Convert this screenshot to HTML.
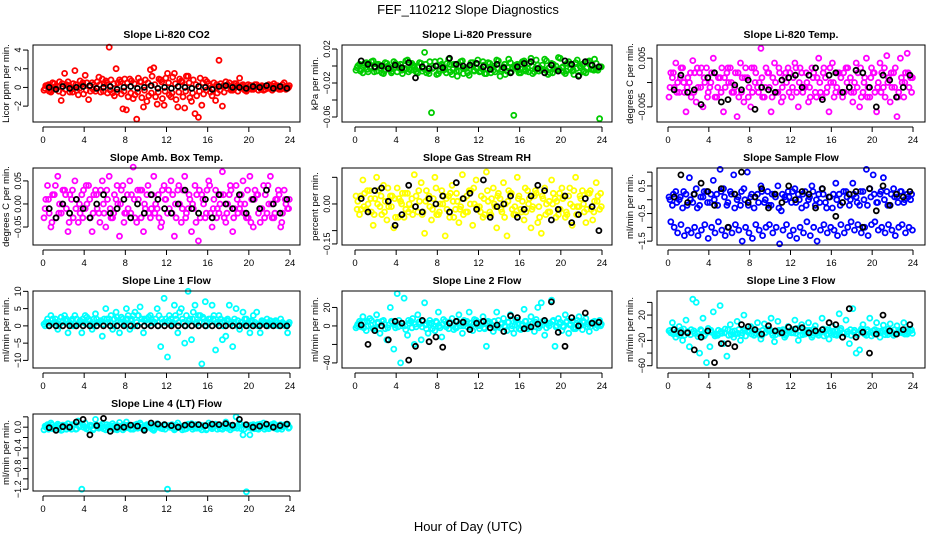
<!DOCTYPE html>
<html><head><meta charset="utf-8"><title>FEF_110212 Slope Diagnostics</title>
<style>html,body{margin:0;padding:0;background:#fff}svg{display:block;font-family:"Liberation Sans",sans-serif}</style>
</head><body>
<svg id="chart" width="936" height="540" viewBox="0 0 936 540" xmlns="http://www.w3.org/2000/svg">
<rect x="0" y="0" width="936" height="540" fill="#fff"/>
<text x="468" y="14" font-size="13" text-anchor="middle">FEF_110212  Slope Diagnostics</text>
<text x="468" y="531" font-size="13" text-anchor="middle">Hour of Day (UTC)</text>
</svg>
<script>
const xTicks=[0,4,8,12,16,20,24];
const co2C1=[-0.3,0.2,-0.5,0.4,0.1,-1.4,1.5,0.6,-0.2,1.8,-0.8,0.3,1.3,-1.3,0.5,-0.4,1.1,0.9,0.7,4.3,-0.6,2.0,0.8,-2.3,-2.4,0.9,-1.2,-3.4,0.6,-2.1,-1.5,1.9,2.1,-1.8,0.8,-1.9,1.5,-1.0,1.5,-2.1,0.7,-2.2,1.2,-1.5,-2.8,-3.2,-1.9,0.8,0.4,-0.9,-1.4,2.9,-2.0,0.6,0.5,-0.3,0.4,1.0,0.3,-0.4,0.2,-0.2,0.3,0.1,-0.3,0.2,-0.1,0.4,0.2,-0.2,0.5,-0.1];
const co2C2=[0.2,-0.4,0.5,-0.2,0.6,-0.6,0.3,-0.5,0.4,-0.3,0.7,-0.7,0.5,-0.4,0.3,0.6,-0.5,0.4,-0.6,0.8,-0.9,0.5,-0.7,0.9,-1.0,0.7,-0.8,1.0,-1.1,0.8,-0.9,1.2,-1.0,0.9,-1.2,1.0,-0.8,1.1,-1.3,0.9,-1.0,1.2,-1.1,0.8,-0.9,1.0,-0.7,0.6,-0.5,0.5,-0.6,0.4,-0.5,0.3,-0.3,0.4,-0.4,0.2,-0.3,0.3,-0.2,0.3,-0.3,0.2,-0.2,0.3,-0.3,0.2,-0.2,0.3,-0.2,0.2];
const co2C3=[-0.1,0.3,-0.3,0.1,-0.4,0.4,-0.2,0.2,-0.5,0.3,-0.1,0.5,-0.3,0.2,-0.2,-0.1,0.3,-0.4,0.5,-0.3,0.4,-0.5,0.6,-0.4,0.5,-0.6,0.4,-0.5,0.6,-0.3,0.5,-0.6,0.3,-0.5,0.6,-0.4,0.5,-0.6,0.4,-0.5,0.6,-0.4,0.5,-0.6,0.3,-0.4,0.5,-0.3,0.2,-0.2,0.3,-0.3,0.2,-0.1,0.1,-0.2,0.2,-0.1,0.1,-0.2,0.2,-0.1,0.1,-0.2,0.1,-0.1,0.2,-0.1,0.1,-0.1,0.1,0];
const co2Blk=[0,-0.2,0.1,-0.1,0,0.1,0.2,-0.1,0,0.1,-0.2,0,0.1,-0.1,0,0.2,-0.1,0,-0.1,0.1,0,-0.1,0.1,0,-0.2,0.1,0.2,0,0,-0.1,0.1,0,0.2,-0.1,0.1,-0.1];
const presC1=[-5,2,-8,4,-2,6,-6,1,-9,3,-4,5,-7,2,-3,7,-5,0,-8,3,16,-6,-55,5,-9,2,-4,8,-10,1,-6,6,-3,-11,4,-2,-7,5,-9,3,-5,7,-12,-1,-6,4,-58,2,-8,6,-3,9,-7,1,-5,8,-10,3,-4,10,-2,-9,5,-6,4,-11,2,-8,6,-4,3,-62];
const presC2=[0,-4,3,-7,5,-3,2,-8,4,-1,-6,3,-2,-9,6,-4,1,-7,4,-3,-8,5,-2,-10,6,-5,3,-7,2,-12,5,-3,-8,4,-6,7,-3,-9,4,-2,-7,6,-4,-10,8,-3,1,-8,5,-6,3,-9,7,-2,-4,6,-8,2,-5,9,-7,3,-3,-10,7,-2,-6,5,-4,8,-5,-1];
const presC3=[-2,-6,1,-4,-1,-7,2,-3,-6,0,-8,-2,1,-5,-3,-7,3,-4,-1,-6,2,-9,-3,0,-6,-1,-8,2,-4,-6,0,-9,-2,1,-5,-3,-6,1,-4,-8,0,-3,-6,2,-2,-7,-1,-5,2,-4,-7,0,-3,-6,1,-5,-2,-8,0,-4,-1,-6,2,-5,-3,0,-7,-2,1,-5,-3,-1];
const presBlk=[6,2,-1,0,-3,1,-2,4,-14,-1,-3,0,-2,9,2,0,1,3,-1,-4,2,-2,-8,-1,3,5,-3,-8,1,-6,6,2,-12,5,1,-1];
const tempC1=[-3,1,4,-2,3,-6,0,4.5,-4,2,-5,3,-1,5,-3,1,-6,2,3,-2,-7,4,-4,1,-5,3,-1,7,-3,2,-6,4,-2,-4,1,3,-3,4,-5,2,-1,-4,3,-2,5,-3,1,-6,4,-2,2,-3,3,-1,-4,4,-5,-2,5,-3,2,-6,4,-1,5.5,-4,2,-7,5,-3,6,1];
const tempC2=[2,-1,0,3,-2,1,-3,2,-1,3,0,-2,2,-3,1,3,-1,0,-2,2,-3,1,3,-1,-2,2,0,-3,3,-1,1,-2,2,-3,0,2,1,-2,3,-1,0,-3,2,1,-2,3,-1,0,-3,2,1,-2,3,-2,0,2,-3,1,-1,3,-2,0,2,-3,1,-1,3,-2,0,2,-1,1];
const tempC3=[-1,2,-2,1,0,-1,2,-2,3,-1,1,-3,0,2,-1,-2,1,3,0,-1,2,-2,1,-3,3,0,-2,1,-1,2,-3,0,3,-1,2,-2,-1,3,0,-2,2,-1,1,-3,0,2,-2,3,0,-1,-2,2,0,1,-2,-1,3,0,-3,1,2,-1,-2,3,0,2,-1,-3,1,0,2,-2];
const tempBlk=[-1.5,1.5,-2,-1.5,-4.5,1,2,-4,-3.5,-0.5,-1.5,0.5,-5.5,-1,-1.5,-2,0.5,1,1.5,-1,1.5,3,-3.5,1.5,2,-2,-1,2.5,2,-1,-5,1.5,0.5,-3,-1,1.5];
const ambC1=[-3,4,-5,2,6,-2,3,-6,1,5,-4,2,-1,4,-6,3,-2,5,-5,6,-3,1,-7,4,-2,5,8,-4,3,-6,2,-3,6,-1,-5,4,-2,5,-7,3,-4,6,-1,-6,4,-8,2,-3,5,-5,3,-2,7,-4,2,-6,4,-1,5,-3,6,-5,2,-4,4,-2,6,-3,1,-5,3,-1];
const ambC2=[1,-2,2,-3,0,3,-1,2,-3,1,-2,3,0,-3,2,-1,3,-2,1,-3,2,0,3,-2,-1,2,-3,1,3,-1,-2,2,0,-3,3,1,-1,2,-3,0,3,-2,1,-1,2,-3,0,3,-2,1,-1,2,-3,0,3,-1,-2,2,0,-3,1,3,-2,-1,2,0,-3,1,2,-2,0,1];
const ambC3=[-1,1,-4,4,-2,0,2,-4,3,-1,0,-3,4,1,-2,2,-4,0,3,-1,-2,4,0,-4,2,-2,1,3,-3,0,4,-1,-2,2,-4,1,3,-2,0,4,-1,-3,2,0,-4,3,1,-2,4,-1,-3,0,2,-2,4,-3,1,0,-2,3,-4,1,2,-1,-3,4,0,-2,3,-4,1,-1];
const ambBlk=[-1,-3,0,-2,1,-1,-3,0,2,-2,-1,1,-3,0,-2,2,1,-1,-2,0,3,-1,-2,1,-3,2,0,-1,2,-2,1,-1,3,0,-2,1];
const rhC1=[3,-4,9,-2,5,-8,10,-1,7,-6,3,-9,6,1,-5,4,-2,11,-3,8,-11,2,-6,10,-4,5,-12,3,7,-2,-7,11,-3,5,-8,9,-1,-5,12,-3,6,-9,2,8,-12,4,-4,10,-2,-6,5,-9,3,-7,-11,6,-3,9,2,-4,6,-5,3,-8,10,-1,5,-7,4,-6,8,-2];
const rhC2=[1,-2,4,0,-3,2,5,-4,1,-1,3,-5,2,4,-2,0,-4,3,1,-3,5,-1,2,-4,0,3,-2,4,-5,1,-1,2,-3,5,0,-2,3,-4,1,2,-1,4,-3,0,5,-2,-4,3,1,-3,2,-1,4,-5,2,0,-3,4,1,-2,3,-4,0,5,-1,2,-3,4,-2,1,3,-1];
const rhC3=[-2,3,-1,5,2,-4,0,3,-3,6,-1,2,-5,0,4,-3,2,-1,5,-4,1,3,-2,6,-3,0,2,-5,1,4,-2,-4,3,0,6,-1,-3,2,5,-4,0,3,-2,-5,1,4,-1,2,-3,6,0,-2,5,-1,3,-4,1,0,-5,4,2,-3,6,-1,-4,3,0,-2,5,-3,1,4];
const rhBlk=[2,-3,5,6,1,-8,-4,7,-1,-3,2,0,3,-3,8,2,4,-2,9,-5,-1,0,3,-5,-2,3,7,5,-6,-2,3,-7,-4,2,-1,-10];
const flowC1=[0.1,-0.2,0.3,0,-0.3,0.2,0.8,-0.1,0.4,-0.2,0.1,0.3,-0.1,0.7,0.2,1.1,0.4,-0.2,0.3,0.9,0,-0.2,0.4,1.0,0.1,-0.3,0.2,0.5,-0.1,0.3,-0.2,0.2,0.5,-0.4,0.1,0.3,-0.1,0.4,0.2,-0.3,0.3,0,0.5,-0.2,0.2,0.4,-0.1,0.1,-0.3,0.6,0.2,-0.1,0.3,-0.2,0.6,0.1,-0.2,0.3,1.1,0.4,0.9,-0.1,0.2,0.8,0.3,-0.2,0.4,0.1,0.3,-0.1,0.2,0];
const flowC2=[-0.8,-1.0,-1.2,-0.9,-1.3,-1.1,-1.2,-1.0,-1.3,-1.1,-0.9,-1.4,-1.0,-1.2,-0.8,-1.1,-1.3,-1.0,-1.2,-0.9,-1.1,-1.5,-1.0,-1.2,-1.4,-0.9,-1.1,-1.3,-1.0,-0.9,-1.2,-1.0,-1.6,-1.1,-0.9,-1.3,-1.1,-1.4,-1.0,-1.2,-0.8,-1.3,-1.0,-1.5,-1.1,-0.9,-1.2,-1.0,-1.1,-1.3,-0.9,-1.2,-1.0,-0.8,-1.1,-0.9,-1.2,-1.0,-1.3,-0.9,-0.8,-1.1,-1.0,-1.2,-0.9,-1.1,-1.3,-1.0,-0.9,-1.2,-1.0,-1.1];
const flowC3=[0,0.2,-0.1,0.1,0.3,-0.2,0,0.2,-0.3,0.1,0.3,-0.1,0.2,0,-0.2,0.3,0.1,-0.1,0.2,-0.3,0.1,0.3,0,-0.2,0.2,0.1,-0.1,0.3,0,-0.2,0.2,0.1,-0.3,0.2,0,0.1,0.3,-0.1,0,0.2,-0.2,0.1,0.3,0,-0.1,0.2,-0.3,0.1,0.2,0,-0.2,0.3,0.1,0,0.2,-0.1,0.3,0,-0.2,0.1,0.2,-0.1,0.3,0,-0.2,0.2,0.1,-0.1,0.3,0,0.1,0.2];
const flowBlk=[0.1,0.9,-0.1,0.2,0.6,0.3,-0.2,0.4,-1.0,0.2,1.0,-0.1,0.1,0.4,-0.3,0.2,-0.1,0.5,0,0.3,0.2,-0.3,0.4,0.1,-0.6,-0.1,0.2,0.3,-1.0,0.4,-0.4,0.5,-0.2,0.2,0.1,0.3];
const l1C1=[0.5,2,3,1,-1,2.5,3,-2,1.5,3,0.5,-2,3,2,-1,3.5,1,-3,5,2,-1,4,-2,2,5,-1,3,1,5.5,-2,2,3,1,5,-6,8,-9,2,6,-2,5,-5,10,-4,6,3,-11,7,2,6,-7,3,-4,-3,6,-6,5,-1,4,2,-2,3,4,-2,1,2,1.5,0.5,1,2,0.5,-2];
const l1C2=[1,0,2,1,0.5,1.5,2,1,0,2,1.5,1,2.5,0.5,2,1,1.5,2,1,3,2,1.5,2.5,1,3,2,4,3,2,1.5,2.5,1,2,3,1,2,3,1,2,4,1,3,2,4,1,3,2,1,2,3,1,2,1.5,2,1,2,1.5,1,2,1,1.5,1,0.5,1.5,1,0.5,1,1.5,0.5,1,0.5,1];
const l1C3=[0,1,0.5,2,0,1,1.5,0.5,2,0,1,2,0.5,1.5,0,2,1,0.5,2,1,0,2.5,1,0.5,2,1.5,0,3,1,2,0.5,2,1,0,2,1,1.5,0.5,3,1,2,0,1.5,2,0.5,1,2.5,0,1,2,0.5,1,0,1.5,0.5,1,0,1,0.5,0,1,0.5,0,1,0.5,0,0.5,1,0,0.5,0,0.5];
const l1Blk=[0,0,0,0,0,0,0,0,0,0,0,0,0,0,0,0,0,0,0,0,0,0,0,0,0,0,0,0,0,0,0,0,0,0,0,0];
const l2C1=[-2,5,10,-5,8,-3,12,-8,6,-15,20,-25,35,-40,30,-10,5,-20,12,-15,25,-8,3,-5,15,-12,5,-3,8,-2,12,-8,3,15,-5,6,-3,10,-22,4,-6,15,-2,8,-5,12,-8,6,-4,18,-3,10,-6,20,25,-10,3,28,-22,8,-5,12,-8,5,-3,10,-4,8,-6,4,-2,6];
const l2C2=[2,-1,4,0,6,-2,3,5,-3,1,4,-2,6,0,-4,3,8,-1,2,5,-3,6,0,4,-2,7,1,3,-4,5,0,6,-1,3,7,0,4,-3,5,1,-2,6,3,-1,4,0,6,-3,2,5,-1,3,7,0,5,-2,3,6,0,4,-1,5,2,-3,6,1,4,-1,3,5,0,2];
const l2C3=[0,3,-2,5,1,-3,4,0,2,-2,5,1,-1,3,0,6,-2,2,4,-1,1,3,-3,5,0,2,-1,4,1,-2,3,0,5,-1,2,4,0,-2,3,1,5,-1,2,0,4,-3,1,3,0,5,-1,2,4,-2,1,3,0,5,-1,2,0,4,1,-2,3,0,5,2,-1,3,1,0];
const l2Blk=[1,-20,-5,0,-15,5,3,-37,-22,6,-17,-12,-23,3,5,4,-4,3,5,-2,1,-6,11,9,-3,-1,2,6,26,-7,-22,9,0,14,3,4];
const l3C1=[-5,8,-15,2,-20,12,-30,45,40,-40,15,-55,-30,25,-10,35,-25,-45,5,-15,10,-20,20,-5,2,-12,8,-18,6,-3,15,-22,10,-5,-15,2,-8,12,-20,5,-10,8,-15,3,-12,15,-5,-18,2,-10,22,-8,12,-25,30,-40,-35,5,-12,15,-5,8,-15,4,-8,6,-12,3,-6,8,-10,-2];
const l3C2=[-8,-2,-10,-4,-12,-6,-3,-9,-14,-5,-11,-1,-7,-13,-4,-9,-2,-12,-6,-10,-3,-8,-13,-5,-1,-9,-11,-4,-7,-2,-12,-6,-9,-3,-10,-5,-8,-1,-12,-6,-4,-10,-2,-9,-7,-13,-3,-8,-11,-5,-1,-9,-6,-12,-4,-8,-2,-10,-6,-13,-3,-9,-5,-11,-2,-7,-10,-4,-8,-3,-6,-9];
const l3C3=[-4,-10,-6,-12,-2,-8,-11,-5,-9,-3,-13,-7,-4,-10,-12,-6,-8,-3,-11,-5,-9,-12,-4,-7,-10,-3,-6,-12,-8,-5,-9,-11,-4,-7,-12,-6,-3,-9,-5,-11,-8,-4,-12,-6,-9,-2,-10,-5,-7,-12,-4,-8,-10,-3,-7,-11,-5,-9,-3,-7,-10,-5,-8,-4,-11,-6,-3,-9,-5,-10,-7,-4];
const l3Blk=[-3,-8,-8,-35,-15,-5,-55,-25,-25,-30,5,2,-3,-10,3,-5,-8,1,-2,0,-8,-5,-3,8,5,-15,30,-15,-7,-40,-10,20,-5,-10,-3,5];
const l4C1=[-0.05,0.05,0.08,-0.03,0.06,-0.06,0.02,0.07,-0.04,0.05,0.12,-1.2,0.08,-0.05,0.03,0.15,-0.02,0.06,-0.05,0.04,0.07,-0.03,0.09,-0.05,0.1,0.02,-0.04,0.06,0.08,-0.03,0.05,0.03,-0.06,0.07,-0.02,0.05,-1.2,0.04,-0.05,0.08,0.02,-0.04,0.06,0.07,-0.02,0.05,-0.05,0.03,0.08,-0.03,0.06,0.02,-0.04,0.1,0.04,-0.02,0.2,0.08,-0.15,-1.25,-0.15,0.05,-0.03,0.06,0.08,-0.02,0.04,0.07,-0.04,0.05,0.02,0.06];
const l4C2=[0,0.03,-0.03,0.02,-0.02,0.04,-0.04,0,0.03,-0.03,0.02,0,-0.02,0.04,-0.03,0.01,0.03,-0.02,0,0.02,-0.04,0.03,0,-0.02,0.04,-0.03,0.01,0.02,-0.02,0.03,0,-0.04,0.02,0.01,-0.03,0.03,0,-0.02,0.04,-0.01,0.02,-0.03,0,0.03,-0.02,0.04,0,-0.03,0.02,0.01,-0.04,0.03,0,-0.02,0.03,-0.01,0.02,-0.03,0.04,0,-0.02,0.03,-0.04,0.01,0.02,-0.03,0,0.04,-0.02,0.01,0.03,0];
const l4C3=[0.02,-0.04,0.05,-0.01,0.03,-0.05,0.04,-0.02,0.05,-0.04,0.01,0.05,-0.03,0.02,-0.05,0.04,0,-0.03,0.05,-0.02,0.03,-0.05,0.02,0.05,-0.01,-0.04,0.04,-0.02,0.05,-0.05,0.02,0.04,-0.03,0.05,-0.01,-0.04,0.03,0.05,-0.03,0.01,-0.05,0.04,0.02,-0.04,0.05,-0.02,0.03,-0.05,0.04,-0.01,0.05,-0.03,0.02,0.04,-0.05,0.03,-0.02,0.05,-0.04,0.02,0.04,-0.03,0.05,-0.01,-0.04,0.03,0.05,-0.02,0.03,-0.04,0.05,-0.02];
const l4Blk=[-0.01,-0.06,0.01,0.0,0.1,0.15,-0.15,0.03,0.17,-0.08,0.0,0.0,0.04,0.02,-0.06,0.08,0.06,0.05,0.03,0,0.04,0.05,0.05,0.03,0.06,0.05,0.07,0.04,0.15,0.05,0.0,0.02,0.06,0.0,0.03,0.06];

const svg=document.getElementById('chart');
const NS='http://www.w3.org/2000/svg';
function mk(tag,attrs,parent){const e=document.createElementNS(NS,tag);for(const k in attrs)e.setAttribute(k,attrs[k]);(parent||svg).appendChild(e);return e;}
const cols=[{l:33,r:300,x0:43,x24:290},{l:342,r:612,x0:355,x24:602},{l:657,r:925,x0:668,x24:913}];
const rowTop=[45,168,291,414];const H=77;
const panels=[
{n:'co2',t:'Slope Li-820 CO2',yl:'Licor ppm per min.',c:'#ff0000',u:1,top:4.54,bot:-3.7,ticks:[-2,0,2,4],labs:['−2','0','2','4'],d:[co2C1,co2C2,co2C3,co2Blk]},
{n:'pressure',t:'Slope Li-820 Pressure',yl:'kPa per min.',c:'#00cc00',u:0.001,top:0.0247,bot:-0.0659,ticks:[0.02,0,-0.02,-0.04,-0.06],labs:['0.02','','−0.02','','−0.06'],d:[presC1,presC2,presC3,presBlk]},
{n:'li820-temp',t:'Slope Li-820 Temp.',yl:'degrees C per min.',c:'#ff00ff',u:0.001,top:0.0077,bot:-0.0081,ticks:[0.005,0,-0.005],labs:['0.005','','−0.005'],d:[tempC1,tempC2,tempC3,tempBlk]},
{n:'amb-box-temp',t:'Slope Amb. Box Temp.',yl:'degrees C per min.',c:'#ff00ff',u:0.01,top:0.078,bot:-0.089,ticks:[0.05,0,-0.05],labs:['0.05','0.00','−0.05'],d:[ambC1,ambC2,ambC3,ambBlk]},
{n:'gas-stream-rh',t:'Slope Gas Stream RH',yl:'percent per min.',c:'#ffff00',u:0.01,top:0.135,bot:-0.154,ticks:[0.1,0,-0.1,-0.15],labs:['','0.00','','−0.15'],d:[rhC1,rhC2,rhC3,rhBlk]},
{n:'sample-flow',t:'Slope Sample Flow',yl:'ml/min per min.',c:'#0000ff',u:1,top:1.15,bot:-1.64,ticks:[1,0.5,0,-0.5,-1,-1.5],labs:['','0.5','','−0.5','','−1.5'],d:[flowC1,flowC2,flowC3,flowBlk]},
{n:'line1-flow',t:'Slope Line 1 Flow',yl:'ml/min per min.',c:'#00ffff',u:1,top:10.1,bot:-12.2,ticks:[10,5,0,-5,-10],labs:['10','5','0','−5','−10'],d:[l1C1,l1C2,l1C3,l1Blk]},
{n:'line2-flow',t:'Slope Line 2 Flow',yl:'ml/min per min.',c:'#00ffff',u:1,top:37.8,bot:-45.5,ticks:[20,0,-20,-40],labs:['20','0','','−40'],d:[l2C1,l2C2,l2C3,l2Blk]},
{n:'line3-flow',t:'Slope Line 3 Flow',yl:'ml/min per min.',c:'#00ffff',u:1,top:58,bot:-63.6,ticks:[40,20,0,-20,-40,-60],labs:['','20','','−20','','−60'],d:[l3C1,l3C2,l3C3,l3Blk]},
{n:'line4-flow',t:'Slope Line 4 (LT) Flow',yl:'ml/min per min.',c:'#00ffff',u:1,top:0.255,bot:-1.235,ticks:[0.2,0,-0.2,-0.4,-0.6,-0.8,-1.0,-1.2],labs:['','0.0','','−0.4','','−0.8','','−1.2'],d:[l4C1,l4C2,l4C3,l4Blk]}
];
const offs=[0.1,0.27,0.2];
panels.forEach((p,i)=>{
  const col=cols[i%3],top=rowTop[Math.floor(i/3)],bot=top+H;
  const g=mk('g',{});
  
  
  const sx=h=>col.x0+(col.x24-col.x0)*h/24;
  const sy=v=>top+(p.top-v)/(p.top-p.bot)*H;
  const cx=(col.l+col.r)/2;
  const tt=mk('text',{x:cx,y:top-7,'font-size':10.5,'font-weight':'bold','text-anchor':'middle'},g);tt.textContent=p.t;
  
  
  const yl=mk('text',{x:0,y:0,'font-size':9.5,'text-anchor':'middle',transform:`translate(${col.l-24},${top+H/2}) rotate(-90)`},g);yl.textContent=p.yl;
  
  
  const pts=mk('g',{fill:'none','stroke-width':1.8},g);
  [0,1,2].forEach(k=>{
    p.d[k].forEach((v,j)=>{
      const h=j/3+offs[k];
      const c=mk('circle',{cx:sx(h).toFixed(1),cy:sy(v*p.u).toFixed(1),r:2.5,stroke:p.c},pts);
      
      
    });
  });
  p.d[3].forEach((v,j)=>{
    const h=0.6+j*0.66;
    const c=mk('circle',{cx:sx(h).toFixed(1),cy:sy(v*p.u).toFixed(1),r:2.5,stroke:'#000'},pts);
    
    
  });
  const box=mk('rect',{x:col.l,y:top,width:col.r-col.l,height:H,fill:'none',stroke:'#000','stroke-width':1},g);
  
  
  mk('line',{x1:sx(0),x2:sx(24),y1:bot+5,y2:bot+5,stroke:'#000'},g);
  xTicks.forEach(t=>{
    mk('line',{x1:sx(t),x2:sx(t),y1:bot+5,y2:bot+10,stroke:'#000'},g);
    const tx=mk('text',{x:sx(t),y:bot+21,'font-size':9.5,'text-anchor':'middle'},g);tx.textContent=t;
    
    
  });
  mk('line',{x1:col.l-5,x2:col.l-5,y1:sy(p.ticks[0]),y2:sy(p.ticks[p.ticks.length-1]),stroke:'#000'},g);
  p.ticks.forEach((t,k)=>{
    const y=sy(t);
    mk('line',{x1:col.l-10,x2:col.l-5,y1:y,y2:y,stroke:'#000'},g);
    if(p.labs[k]){
      const ty=mk('text',{x:0,y:0,'font-size':9,'text-anchor':'middle',transform:`translate(${col.l-12},${y}) rotate(-90)`},g);ty.textContent=p.labs[k];
      
      
    }
  });
});
</script>
</body></html>
